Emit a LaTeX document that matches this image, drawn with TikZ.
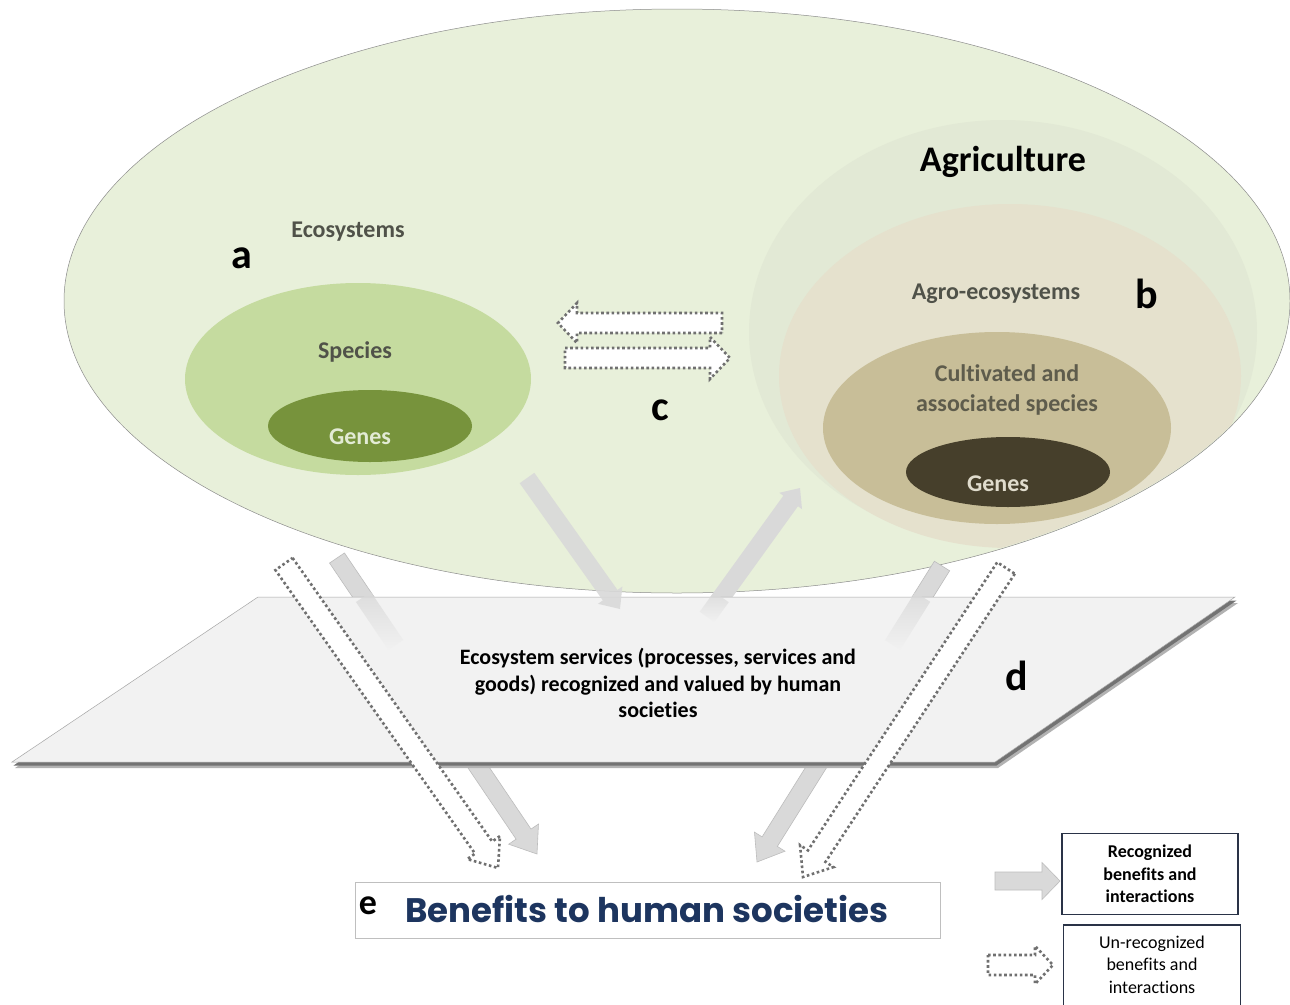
\documentclass[tikz,border=0pt]{standalone}
\usepackage{fontspec}
\setmainfont{Carlito}[Ligatures={CommonOff,ContextualOff}]
\newfontfamily\popfont{Poppins}
\usetikzlibrary{shapes.geometric,calc,fadings}
\definecolor{ecofill}{HTML}{E8F0DA}
\definecolor{agrifill}{HTML}{E2E9D5}
\definecolor{agrofill}{HTML}{E5E1CD}
\definecolor{cultfill}{HTML}{C8BE98}
\definecolor{genedark}{HTML}{463F2B}
\definecolor{specfill}{HTML}{C5DB9F}
\definecolor{genegreen}{HTML}{77933C}
\definecolor{labgray}{HTML}{505249}
\definecolor{culttext}{HTML}{5E5C4C}
\definecolor{genetexta}{HTML}{E3EBD5}
\definecolor{genetextb}{HTML}{E0DCCD}
\definecolor{arrowgray}{HTML}{D9D9D9}
\definecolor{arrowedge}{HTML}{BDBDBD}
\definecolor{dotgray}{HTML}{707070}
\definecolor{planefill}{HTML}{F2F2F2}
\definecolor{navy}{HTML}{1D355F}
\definecolor{legendedge}{HTML}{2A3347}
\tikzfading[name=fadedown, top color=transparent!15, bottom color=transparent!100]

\newcommand\blockarrow[6]{%
  \coordinate (#2n) at ($(#3)!#6!(#2)$);
  \path[#1] ($(#2)!#4!90:(#3)$) -- ($(#2n)!#4!90:(#3)$) -- ($(#2n)!#5!90:(#3)$) -- (#3) -- ($(#2n)!#5!-90:(#3)$) -- ($(#2n)!#4!-90:(#3)$) -- ($(#2)!#4!-90:(#3)$) -- cycle;}
\newcommand\shaftpiece[4]{%
  \path[#1] ($(#2)!#4!90:(#3)$) -- ($(#3)!#4!-90:(#2)$) -- ($(#3)!#4!90:(#2)$) -- ($(#2)!#4!-90:(#3)$) -- cycle;}

\begin{document}
\begin{tikzpicture}[x=1pt,y=-1pt,
  region/.style={ellipse, inner sep=0pt, draw=none},
  lab/.style={inner sep=0pt, font=\fontsize{24}{29}\selectfont\bfseries, text=labgray},
  letter/.style={inner sep=0pt, font=\fontsize{42}{50}\selectfont\bfseries},
  recog/.style={fill=arrowgray, draw=arrowedge, line width=0.6pt},
  unrecog/.style={fill=white, draw=dotgray, line width=2.6pt, dash pattern=on 2.6pt off 2.6pt, line join=miter},
]
\useasboundingbox (0,0) rectangle (1290,1004);
\clip (0,0) rectangle (1290,1004);
\fill[white] (0,0) rectangle (1290,1004);

% ecosystems
\node[region, minimum width=1226pt, minimum height=584pt, fill=ecofill, draw=black!45, line width=0.5pt] (eco) at (677,301) {};
\begin{scope}
\clip (677,301) ellipse [x radius=612pt, y radius=291pt];
\node[region, minimum width=508pt, minimum height=424pt, fill=agrifill] (agri) at (1003,332) {};
\node[region, minimum width=462pt, minimum height=344pt, fill=agrofill] (agro) at (1010,376) {};
\end{scope}
\node[region, minimum width=348pt, minimum height=192pt, fill=cultfill] (cult) at (997,428) {};
\node[region, minimum width=204pt, minimum height=70pt, fill=genedark] (genesb) at (1008,472) {};
\node[region, minimum width=346pt, minimum height=192pt, fill=specfill] (spec) at (358,379) {};
\node[region, minimum width=204pt, minimum height=72pt, fill=genegreen] (genesa) at (370,426) {};

\node[lab] (tEco) at (348,232) {Ecosystems};
\node[letter] (la) at (242,258) {a};
\node[lab] (tSpec) at (355,352) {Species};
\node[lab, text=genetexta] (tGa) at (360,437) {Genes};
\node[inner sep=0pt, font=\fontsize{36}{43}\selectfont\bfseries] (tAgri) at (1003,162) {Agriculture};
\node[lab] (tAgro) at (996,294) {Agro-ecosystems};
\node[letter] (lb) at (1147,294) {b};
\node[lab, text=culttext, align=center, font=\fontsize{24}{30}\selectfont\bfseries] (tCult) at (1007,390) {Cultivated and\\associated species};
\node[lab, text=genetextb] (tGb) at (998,484) {Genes};
\node[letter] (lc) at (660,410) {c};

% c arrows
\coordinate (c1t) at (722,323); \coordinate (c1h) at (558,323);
\blockarrow{unrecog}{c1t}{c1h}{10pt}{20pt}{19pt}
\coordinate (c2t) at (565,358); \coordinate (c2h) at (730,358);
\blockarrow{unrecog}{c2t}{c2h}{10pt}{21pt}{20pt}

% recognized arrows under the plane
\coordinate (g1t) at (337,558); \coordinate (g1h) at (537,854);
\blockarrow{recog}{g1t}{g1h}{9pt}{18pt}{24pt}
\coordinate (g4t) at (942,566); \coordinate (g4h) at (757,862);
\blockarrow{recog}{g4t}{g4h}{9pt}{18pt}{24pt}
\coordinate (g3t) at (707,617); \coordinate (g3h) at (800,488);
\blockarrow{recog, draw=none}{g3t}{g3h}{9pt}{14pt}{16pt}

% plane
\coordinate (p1) at (258,597); \coordinate (p2) at (1235,597);
\coordinate (p3) at (995,762); \coordinate (p4) at (12,762);
\fill[black!30] ([xshift=3pt,yshift=-6pt]p1) -- ([xshift=3pt,yshift=-6pt]p2) -- ([xshift=3pt,yshift=-6pt]p3) -- ([xshift=3pt,yshift=-6pt]p4) -- cycle;
\fill[black!55] ([xshift=1.5pt,yshift=-3.5pt]p1) -- ([xshift=1.5pt,yshift=-3.5pt]p2) -- ([xshift=1.5pt,yshift=-3.5pt]p3) -- ([xshift=1.5pt,yshift=-3.5pt]p4) -- cycle;
\path[fill=planefill, draw=black!35, line width=0.5pt] (p1) -- (p2) -- (p3) -- (p4) -- cycle;

% faded parts of recognized arrows inside the plane
\coordinate (g1a) at (363.4,597); \coordinate (g1b) at (395.8,645);
\shaftpiece{fill=arrowgray, path fading=fadedown}{g1a}{g1b}{9pt}
\coordinate (g4a) at (922.6,597); \coordinate (g4b) at (892.6,645);
\shaftpiece{fill=arrowgray, path fading=fadedown}{g4a}{g4b}{9pt}
\coordinate (g3a) at (721.4,597);
\shaftpiece{fill=arrowgray, path fading=fadedown}{g3a}{g3t}{9pt}
\coordinate (g2t) at (527,478); \coordinate (g2h) at (620,609);
\blockarrow{recog, draw=none, opacity=0.9}{g2t}{g2h}{9pt}{15pt}{17pt}

\node[inner sep=0pt, font=\fontsize{22}{26.5}\selectfont\bfseries, align=center] (tServ) at (658,683) {Ecosystem services (processes, services and\\goods) recognized and valued by human\\societies};
\node[letter] (ld) at (1017,676) {d};

% un-recognized arrows
\coordinate (u1t) at (284,564); \coordinate (u1h) at (498,868);
\blockarrow{unrecog}{u1t}{u1h}{10.5pt}{20pt}{25pt}
\coordinate (u2t) at (1006,568); \coordinate (u2h) at (803,877);
\blockarrow{unrecog}{u2t}{u2h}{10.5pt}{20pt}{25pt}

% benefits
\node[draw=black!25, line width=0.8pt, fill=white, minimum width=585pt, minimum height=56pt, inner sep=0pt] (benbox) at (647.5,910) {};
\node[inner sep=0pt, font=\fontsize{36}{40}\selectfont\bfseries] (le) at (368,906) {e};
\node[inner sep=0pt, font=\popfont\fontsize{34}{40}\selectfont\bfseries, text=navy] (tBen) at (647,909) {Benefits to human societies};

% legend
\node[draw=legendedge, line width=1.2pt, minimum width=176pt, minimum height=81pt, inner sep=0pt, align=center, font=\fontsize{18}{22.5}\selectfont\bfseries] (leg1) at (1150,874) {Recognized\\benefits and\\interactions};
\node[draw=legendedge, line width=1.2pt, minimum width=177pt, minimum height=92pt, inner sep=0pt] (leg2) at (1152,971) {};
\node[inner sep=0pt, align=center, font=\fontsize{18}{22.5}\selectfont] (leg2t) at (1152,964.5) {Un-recognized\\benefits and\\interactions};
\coordinate (lgt) at (995,881); \coordinate (lgh) at (1060,881);
\blockarrow{recog}{lgt}{lgh}{9pt}{18.5pt}{18pt}
\coordinate (lut) at (988,965); \coordinate (luh) at (1053,965);
\blockarrow{unrecog}{lut}{luh}{10pt}{19pt}{18pt}
\end{tikzpicture}
\end{document}
